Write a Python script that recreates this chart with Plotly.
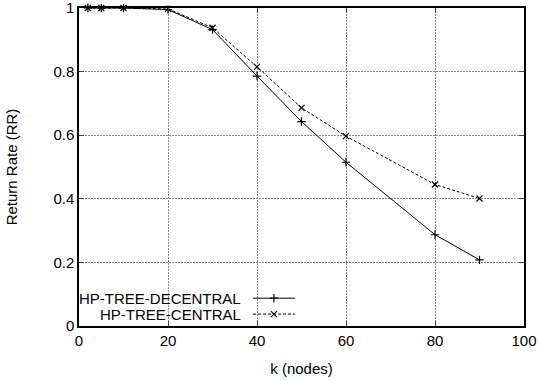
import plotly.graph_objects as go

k_nodes = [2, 5, 10, 20, 30, 40, 50, 60, 80, 90]
rr_decentral = [1.0, 1.0, 1.0, 0.995, 0.932, 0.786, 0.643, 0.515, 0.287, 0.208]
rr_central = [1.0, 1.0, 1.0, 0.997, 0.938, 0.815, 0.686, 0.597, 0.445, 0.401]
series_names = ["HP-TREE-DECENTRAL", "HP-TREE-CENTRAL"]
x_ticks = [0, 20, 40, 60, 80, 100]
y_ticks = [0, 0.2, 0.4, 0.6, 0.8, 1]
y_tick_text = ["0", "0.2", "0.4", "0.6", "0.8", "1"]

FONT = "Liberation Sans, Arial, sans-serif"
FS = 15

fig = go.Figure()
fig.add_trace(go.Scatter(
    x=k_nodes, y=rr_decentral, mode="lines+markers", name=series_names[0],
    line=dict(color="black", width=1),
    marker=dict(symbol="cross-thin", size=6, line=dict(color="black", width=1.2)),
    showlegend=False, cliponaxis=False))
fig.add_trace(go.Scatter(
    x=k_nodes, y=rr_central, mode="lines+markers", name=series_names[1],
    line=dict(color="black", width=1, dash="3px,2px"),
    marker=dict(symbol="x-thin", size=6, line=dict(color="black", width=1.2)),
    showlegend=False, cliponaxis=False))

# gnuplot-style key (sample line to the right of the label)
key_y = [0.0875, 0.0375]
fig.add_trace(go.Scatter(x=[0.391, 0.485], y=[key_y[0]] * 2, mode="lines",
                         line=dict(color="black", width=1), xaxis="x2", yaxis="y2",
                         showlegend=False, hoverinfo="skip"))
fig.add_trace(go.Scatter(x=[0.438], y=[key_y[0]], mode="markers",
                         marker=dict(symbol="cross-thin", size=6, line=dict(color="black", width=1.2)),
                         xaxis="x2", yaxis="y2", showlegend=False, hoverinfo="skip"))
fig.add_trace(go.Scatter(x=[0.391, 0.485], y=[key_y[1]] * 2, mode="lines",
                         line=dict(color="black", width=1, dash="3px,2px"), xaxis="x2", yaxis="y2",
                         showlegend=False, hoverinfo="skip"))
fig.add_trace(go.Scatter(x=[0.438], y=[key_y[1]], mode="markers",
                         marker=dict(symbol="x-thin", size=6, line=dict(color="black", width=1.2)),
                         xaxis="x2", yaxis="y2", showlegend=False, hoverinfo="skip"))

annotations = []
for name, yy in zip(series_names, key_y):
    annotations.append(dict(x=0.3685, y=yy, xref="paper", yref="paper", text=name,
                            showarrow=False, xanchor="right", yanchor="middle",
                            font=dict(family=FONT, size=FS, color="black")))

fig.update_layout(
    width=538, height=381,
    margin=dict(l=79, r=14, t=8, b=55),
    paper_bgcolor="white", plot_bgcolor="white",
    font=dict(family=FONT, size=FS, color="black"),
    xaxis=dict(range=[0, 100], tickvals=x_ticks, ticks="inside", ticklen=5,
               showgrid=True, gridcolor="#8a8a8a", griddash="2px,1px", gridwidth=1,
               showline=True, linecolor="black", linewidth=1.5, mirror="ticks",
               zeroline=False, automargin=False, ticklabeloverflow="allow",
               title=dict(text="k (nodes)", font=dict(size=FS), standoff=16),
               tickfont=dict(size=FS)),
    yaxis=dict(range=[0, 1], tickvals=y_ticks, ticktext=y_tick_text, ticks="inside", ticklen=5,
               showgrid=True, gridcolor="#8a8a8a", griddash="2px,1px", gridwidth=1,
               showline=True, linecolor="black", linewidth=1.5, mirror="ticks",
               zeroline=False, automargin=False, ticklabeloverflow="allow",
               title=dict(text="Return Rate (RR)", font=dict(size=FS), standoff=32),
               tickfont=dict(size=FS)),
    xaxis2=dict(range=[0, 1], overlaying="x", visible=False, fixedrange=True),
    yaxis2=dict(range=[0, 1], overlaying="y", visible=False, fixedrange=True),
    annotations=annotations,
)

fig.write_html("out.html")
